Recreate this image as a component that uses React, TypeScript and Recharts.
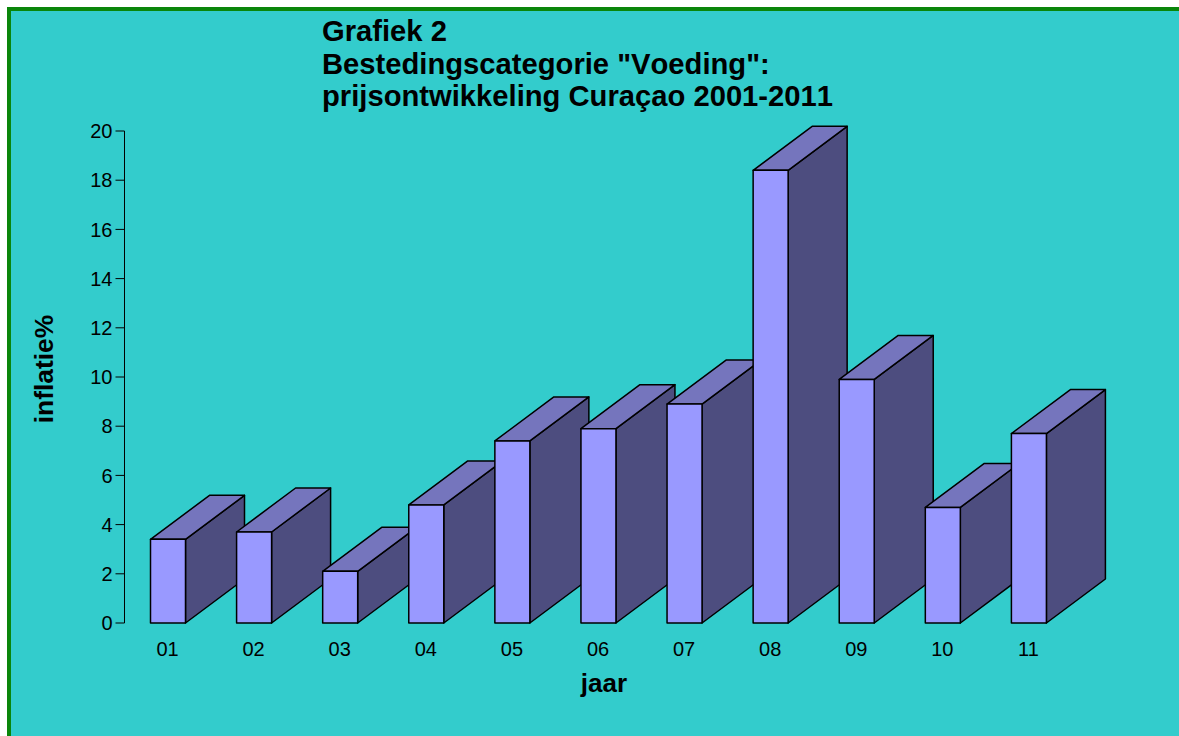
import React from 'react';
import { BarChart, Bar, XAxis, YAxis, Label } from 'recharts';

const years = ['01', '02', '03', '04', '05', '06', '07', '08', '09', '10', '11'];
const inflation = [3.4, 3.7, 2.1, 4.8, 7.4, 7.9, 8.9, 18.4, 9.9, 4.7, 7.7];
const yTicks = [0, 2, 4, 6, 8, 10, 12, 14, 16, 18, 20];
const titleLines = ['Grafiek 2', 'Bestedingscategorie "Voeding":', 'prijsontwikkeling Curaçao 2001-2011'];

const data = years.map((year, i) => ({ year, value: inflation[i] }));

const FONT = '"Liberation Sans", Arial, sans-serif';
const DEPTH_X = 59;
const DEPTH_Y = 44;

// fake 3D box: front, top and side faces around the bar rectangle
const Box3D = (props: any) => {
  const { x, y, width, height } = props;
  const r = x + width;
  const b = y + height;
  return (
    <g stroke="#000" strokeWidth={1.5} strokeLinejoin="round">
      <path d={`M${r},${y} L${r + DEPTH_X},${y - DEPTH_Y} L${r + DEPTH_X},${b - DEPTH_Y} L${r},${b} Z`} fill="#4D4D7F" />
      <path d={`M${x},${y} L${x + DEPTH_X},${y - DEPTH_Y} L${r + DEPTH_X},${y - DEPTH_Y} L${r},${y} Z`} fill="#7575BD" />
      <rect x={x} y={y} width={width} height={height} fill="#9999FF" />
    </g>
  );
};

const YTitle = () => (
  <text
    transform="translate(53,369) rotate(-90)"
    textAnchor="middle"
    fill="#000"
    fontWeight={700}
    fontSize={26.4}
  >
    inflatie%
  </text>
);

const XTitle = () => (
  <text x={604} y={692} textAnchor="middle" fill="#000" fontWeight={700} fontSize={26}>
    jaar
  </text>
);

export default function App() {
  return (
    <div
      style={{
        position: 'absolute',
        left: 0,
        top: 0,
        width: 1179,
        height: 736,
        overflow: 'hidden',
        background: '#fff',
      }}
    >
      <div
        style={{
          position: 'absolute',
          left: 7,
          top: 7,
          width: 1172,
          height: 729,
          boxSizing: 'border-box',
          background: '#33CCCC',
          borderTop: '4px solid #0A860A',
          borderLeft: '4px solid #0A860A',
        }}
      />
      <div
        style={{
          position: 'absolute',
          left: 322,
          top: 15,
          fontFamily: FONT,
          fontWeight: 700,
          fontSize: 29.2,
          fontKerning: 'none',
          lineHeight: '32.5px',
          color: '#000',
          whiteSpace: 'nowrap',
        }}
      >
        {titleLines.map((line) => (
          <div key={line}>{line}</div>
        ))}
      </div>
      <div style={{ position: 'absolute', left: 0, top: 0 }}>
        <BarChart
          width={1179}
          height={736}
          data={data}
          margin={{ top: 131, right: 107.5, bottom: 53, left: 60.5 }}
          style={{ fontFamily: FONT }}
        >
          <XAxis
            dataKey="year"
            interval={0}
            axisLine={false}
            tickLine={false}
            height={60}
            tickMargin={13}
            tick={{ fill: '#000', fontSize: 20 }}
          >
            <Label content={XTitle} />
          </XAxis>
          <YAxis
            domain={[0, 20]}
            ticks={yTicks}
            interval={0}
            width={64}
            tickSize={9}
            tickMargin={3}
            axisLine={{ stroke: '#000', strokeWidth: 1 }}
            tickLine={{ stroke: '#000', strokeWidth: 1 }}
            tick={{ fill: '#000', fontSize: 20 }}
          >
            <Label content={YTitle} />
          </YAxis>
          <Bar dataKey="value" barSize={35} shape={Box3D} isAnimationActive={false} />
        </BarChart>
      </div>
    </div>
  );
}
